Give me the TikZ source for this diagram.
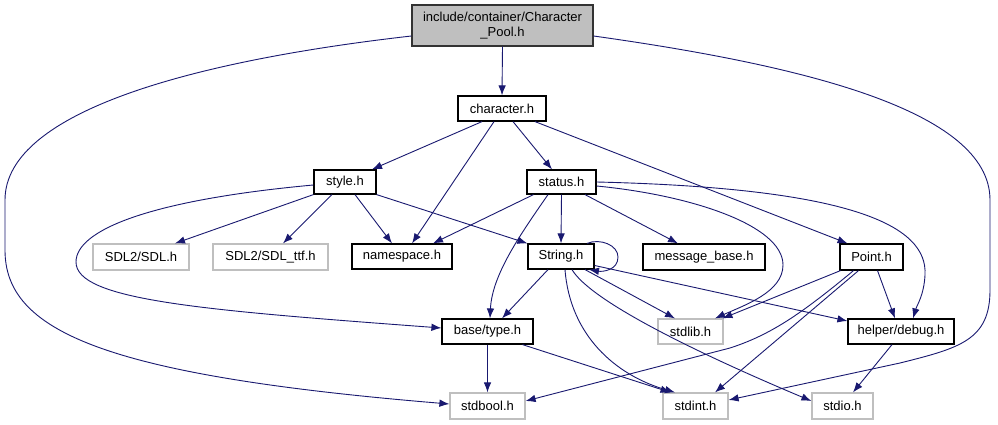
\documentclass[tikz,border=0pt]{standalone}
\usepackage{fontspec}
\setmainfont{Liberation Sans}
\usetikzlibrary{arrows.meta}
\definecolor{edgec}{HTML}{191970}
\definecolor{grayb}{HTML}{BFBFBF}
\begin{document}
\begin{tikzpicture}[x=1pt,y=-1pt,
  box/.style={draw=black,line width=1.2pt,inner sep=0pt,fill=white,font=\fontsize{13}{15}\selectfont,minimum height=25pt},
  gbox/.style={box,draw=grayb},
  e/.style={draw=edgec,line width=0.9pt,-{Latex[length=10pt,width=7.5pt]}}]
\useasboundingbox[fill=white] (0,0) rectangle (998,425);

% nodes
\node[box,fill=grayb,draw=black!80,minimum width=181pt,minimum height=41pt,align=center] (pool) at (502.5,25.5) {include/container/Character\\\_Pool.h};
\node[box,minimum width=88pt] (character) at (502,108.5) {character.h};
\node[box,minimum width=62pt,minimum height=24pt] (style) at (345,182) {style.h};
\node[box,minimum width=69pt,minimum height=24pt] (status) at (561.5,182) {status.h};
\node[gbox,minimum width=96pt,minimum height=26pt] (sdl) at (141,257) {SDL2/SDL.h};
\node[gbox,minimum width=115pt,minimum height=26pt] (ttf) at (270.5,257) {SDL2/SDL\_ttf.h};
\node[box,minimum width=100pt] (namespace) at (402,256.5) {namespace.h};
\node[box,minimum width=66pt] (string) at (561,256.5) {String.h};
\node[box,minimum width=122pt,minimum height=26pt] (msg) at (704,257) {message\_base.h};
\node[box,minimum width=63pt,minimum height=26pt] (point) at (871.5,257) {Point.h};
\node[box,minimum width=91pt] (type) at (487.5,331.5) {base/type.h};
\node[gbox,minimum width=65pt] (stdlib) at (690.5,331.5) {stdlib.h};
\node[box,minimum width=106pt] (debug) at (901,331.5) {helper/debug.h};
\node[gbox,minimum width=75pt,minimum height=26pt] (stdbool) at (487.5,406) {stdbool.h};
\node[gbox,minimum width=65pt,minimum height=26pt] (stdint) at (695.5,406) {stdint.h};
\node[gbox,minimum width=61pt,minimum height=26pt] (stdio) at (842.5,406) {stdio.h};

% edges from pool
\draw[e] (pool.south) -- (character.north);
\draw[e] ([yshift=-10.5pt]pool.west) .. controls (200,60) and (5,110) .. (5,200) -- (5,250) .. controls (5,330) and (100,375) .. ([yshift=2pt]stdbool.west);
\draw[e] ([yshift=-10.5pt]pool.east) .. controls (800,65) and (990,110) .. (990,200) -- (990,290) .. controls (990,340) and (960,348) .. (900,363) -- ([yshift=6pt]stdint.east);

% character
\draw[e] ([xshift=-20pt]character.south) -- ([xshift=27pt]style.north);
\draw[e] ([xshift=-8pt]character.south) -- ([xshift=10pt]namespace.north);
\draw[e] ([xshift=11pt]character.south) -- ([xshift=-9.5pt]status.north);
\draw[e] ([xshift=33pt]character.south) -- ([xshift=-24pt]point.north);

% style
\draw[e] ([yshift=-3pt]style.west) .. controls (150,200) and (76,230) .. (76,262) .. controls (76,300) and (200,310) .. ([yshift=3.5pt]type.west);
\draw[e] (style.south west) -- ([xshift=34pt]sdl.north);
\draw[e] ([xshift=-13pt]style.south) -- ([xshift=12.5pt]ttf.north);
\draw[e] ([xshift=10pt]style.south) -- ([xshift=-10pt]namespace.north);
\draw[e] (style.south east) -- (string.north west);

% status
\draw[e] ([xshift=-28pt]status.south) -- ([xshift=31pt]namespace.north);
\draw[e] (status.south) -- (string.north);
\draw[e] ([xshift=23.5pt]status.south) -- ([xshift=-26pt]msg.north);
\draw[e] ([xshift=-13.5pt]status.south) .. controls (520,235) and (492,275) .. ([xshift=2.5pt]type.north);
\draw[e] ([yshift=-4pt]status.east) .. controls (690,195) and (783,225) .. (783,265) .. controls (783,292) and (745,305) .. ([xshift=24.5pt]stdlib.north);
\draw[e] (status.east) .. controls (850,188) and (928,225) .. (925,275) .. controls (924,295) and (917,305) .. ([xshift=12pt]debug.north);

% String
\draw[e] ([xshift=26pt]string.north) .. controls (600,238) and (618,245) .. (618,257) .. controls (618,270) and (603,272) .. ([xshift=28pt]string.south);
\draw[e] ([xshift=-13pt]string.south) -- ([xshift=14.5pt]type.north);
\draw[e] ([xshift=24pt]string.south) -- ([xshift=-15.5pt]stdlib.north);
\draw[e] ([yshift=-9pt]string.east) -- ([yshift=10.5pt]debug.west);
\draw[e] ([xshift=4pt]string.south) .. controls (570,335) and (615,375) .. ([xshift=-20.5pt]stdint.north);
\draw[e] ([xshift=11pt]string.south) .. controls (590,300) and (690,350) .. ([yshift=5pt]stdio.west);

% Point
\draw[e] ([xshift=-31pt]point.south) -- ([xshift=32pt]stdlib.north);
\draw[e] ([xshift=-18pt]point.south) .. controls (800,315) and (770,335) .. (730,348) -- ([yshift=5pt]stdbool.east);
\draw[e] ([xshift=-13pt]point.south) -- ([xshift=19.5pt]stdint.north);
\draw[e] ([xshift=6pt]point.south) -- ([xshift=-6pt]debug.north);

% type, debug
\draw[e] (type.south) -- (stdbool.north);
\draw[e] ([xshift=35pt]type.south) -- ([xshift=-25pt]stdint.north);
\draw[e] ([xshift=-9pt]debug.south) -- ([xshift=10.5pt]stdio.north);
\end{tikzpicture}
\end{document}
